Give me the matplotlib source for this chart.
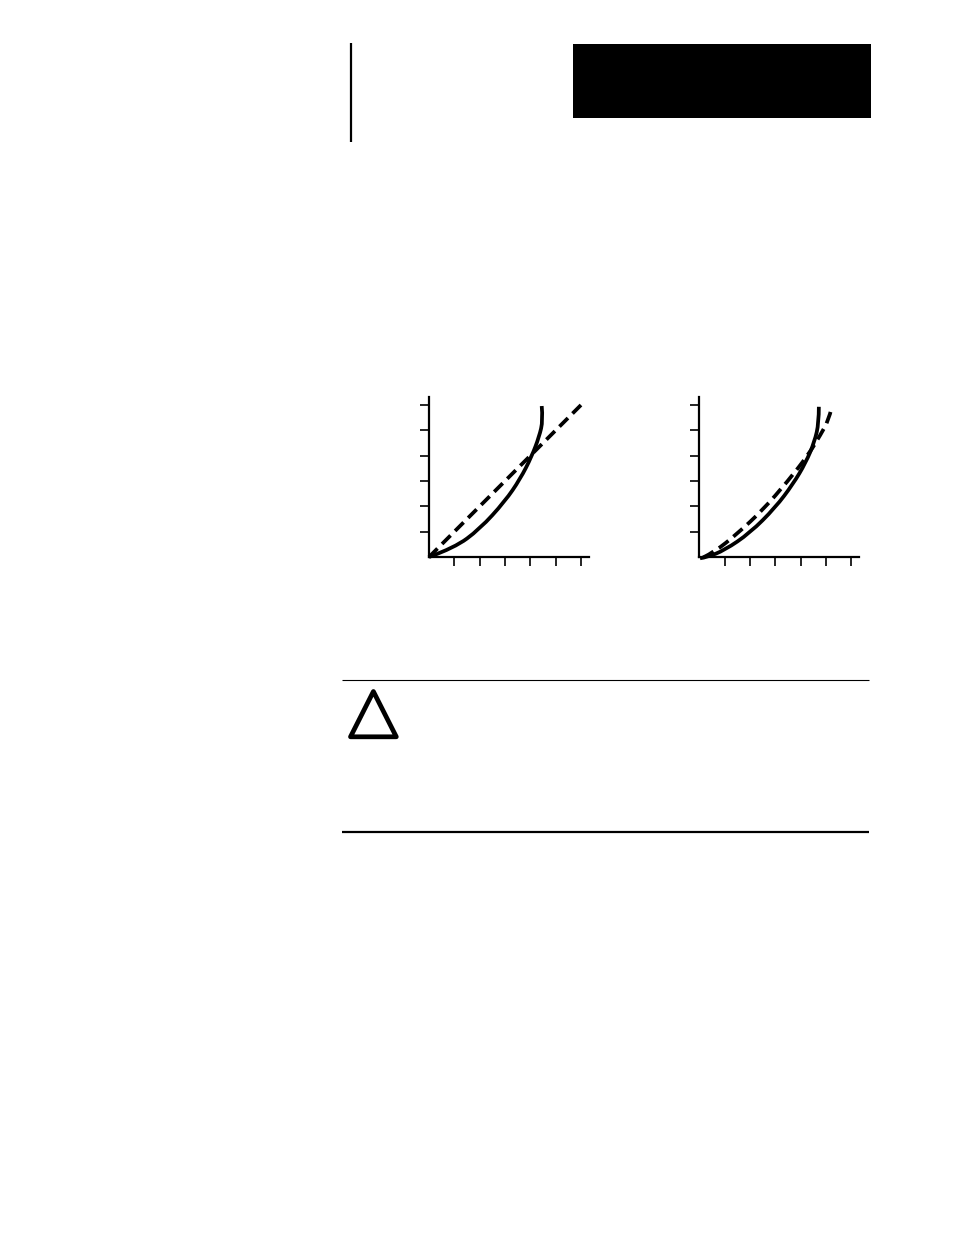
# Page with two response curves and a caution box
import numpy as np
import matplotlib
matplotlib.use('Agg')
import matplotlib.pyplot as plt
from matplotlib.patches import Rectangle, Polygon, PathPatch
from matplotlib.path import Path

W, H = 954, 1235

ticks = [1, 2, 3, 4, 5, 6]

# left chart, values
left_solid_x = [0.00, 1.00, 2.00, 3.00, 3.60, 4.05, 4.35, 4.50, 4.45]
left_solid_y = [0.00, 0.36, 1.10, 2.20, 3.08, 3.96, 4.75, 5.40, 5.96]
left_dash_x = [0.00, 6.00]
left_dash_y = [0.00, 6.00]

# right chart
right_solid_x = [0.03, 0.30, 1.00, 2.00, 3.00, 3.70, 4.20, 4.55, 4.72, 4.72]
right_solid_y = [-0.05, -0.01, 0.27, 0.95, 1.95, 2.88, 3.72, 4.55, 5.30, 5.93]
right_dash_x = [0.15, 0.60, 1.50, 2.50, 3.50, 4.30, 4.80, 5.10, 5.22]
right_dash_y = [-0.02, 0.20, 0.92, 1.85, 3.00, 4.03, 4.85, 5.40, 5.87]

dash_style = (0, (3.2, 1.72))


def curve_axes(fig, left_px, bottom_px, right_px, top_px):
    ax = fig.add_axes([left_px / W, 1 - bottom_px / H, (right_px - left_px) / W, (bottom_px - top_px) / H])
    step = 25.33
    ax.set_xlim(0, (right_px - left_px) / step)
    ax.set_ylim(0, (bottom_px - top_px) / step)
    ax.patch.set_visible(False)
    ax.spines['top'].set_visible(False)
    ax.spines['right'].set_visible(False)
    ax.spines['left'].set_linewidth(1.6)
    ax.spines['bottom'].set_linewidth(1.6)
    ax.set_xticks(ticks)
    ax.set_yticks(ticks)
    ax.set_xticklabels([])
    ax.set_yticklabels([])
    ax.tick_params(direction='out', length=6.3, width=1.2, color='black')
    return ax


def smooth_curve(ax, xs, ys, **style):
    # quadratic pieces through the midpoints, so the read points give a smooth stroke
    pts = np.column_stack([xs, ys])
    verts = [pts[0]]
    codes = [Path.MOVETO]
    for i in range(1, len(pts) - 1):
        end = pts[-1] if i == len(pts) - 2 else (pts[i] + pts[i + 1]) / 2
        verts += [pts[i], end]
        codes += [Path.CURVE3, Path.CURVE3]
    if len(pts) == 2:
        verts.append(pts[1])
        codes.append(Path.LINETO)
    ax.add_patch(PathPatch(Path(verts, codes), fill=False, edgecolor='black', lw=2.7,
                           clip_on=False, capstyle='butt', joinstyle='round', **style))


fig = plt.figure(figsize=(W / 100, H / 100), dpi=100)

# page furniture in pixel coordinates
page = fig.add_axes([0, 0, 1, 1])
page.set_xlim(0, W)
page.set_ylim(H, 0)
page.axis('off')
page.add_patch(Rectangle((573, 44), 298, 74, color='black', lw=0))
page.plot([351, 351], [43, 142], color='black', lw=1.6, solid_capstyle='butt')
page.plot([342, 869], [680, 680], color='black', lw=0.8, solid_capstyle='butt')
page.plot([342, 869], [831.5, 831.5], color='black', lw=1.6, solid_capstyle='butt')
page.add_patch(Polygon([(373.4, 691.5), (350.5, 736.8), (396.3, 736.8)], closed=True, fill=False,
                       edgecolor='black', lw=3.4, joinstyle='round'))

ax1 = curve_axes(fig, 429, 557, 589, 397)
smooth_curve(ax1, left_solid_x, left_solid_y)
smooth_curve(ax1, left_dash_x, left_dash_y, linestyle=dash_style)

ax2 = curve_axes(fig, 699.3, 557, 859, 397)
smooth_curve(ax2, right_solid_x, right_solid_y)
smooth_curve(ax2, right_dash_x, right_dash_y, linestyle=dash_style)

fig.savefig('out.png', dpi=100)
